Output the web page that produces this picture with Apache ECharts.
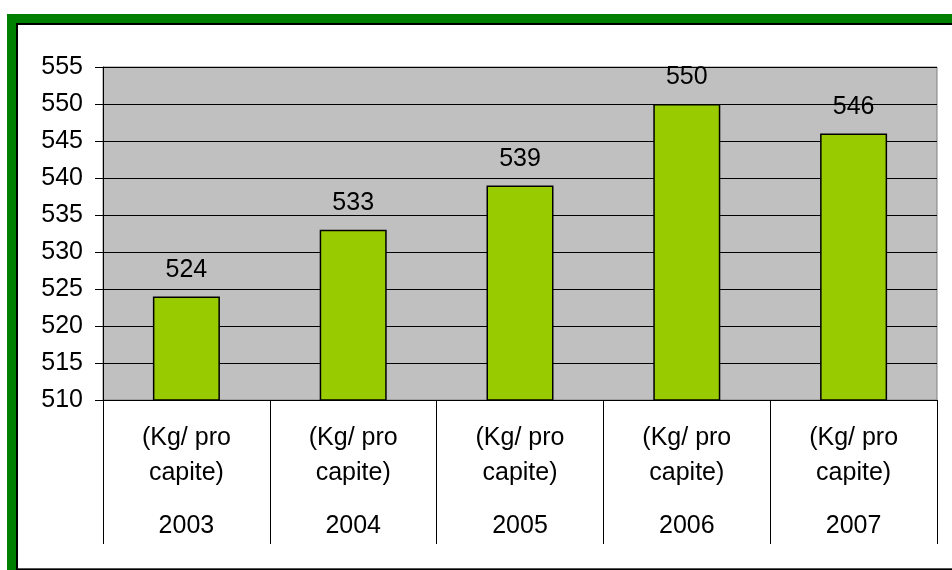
<!DOCTYPE html>
<html>
<head>
<meta charset="utf-8">
<script src="https://cdn.jsdelivr.net/npm/echarts@6/dist/echarts.min.js"></script>
<style>
  html, body { margin: 0; padding: 0; background: #fff; }
  #chart { width: 952px; height: 570px; }
</style>
</head>
<body>
<div id="chart"></div>
<script>
// dati
const years = ['2003', '2004', '2005', '2006', '2007']
const units = ['(Kg/ pro capite)', '(Kg/ pro capite)', '(Kg/ pro capite)', '(Kg/ pro capite)', '(Kg/ pro capite)']
const values = [524, 533, 539, 550, 546]
const yMin = 510
const yMax = 555
const yStep = 5

const font = 'Liberation Sans, Arial, sans-serif'

const myChart = echarts.init(document.getElementById('chart'))
myChart.setOption({
  backgroundColor: '#fff',
  animation: false,
  // cornice verde come nel foglio excel
  graphic: [
    { type: 'rect', z: -10, shape: { x: 7, y: 14, width: 1000, height: 600 }, style: { fill: '#008000' } },
    { type: 'rect', z: -9, shape: { x: 16, y: 23, width: 1000, height: 600 }, style: { fill: '#000' } },
    { type: 'rect', z: -8, shape: { x: 18, y: 25, width: 1000, height: 543 }, style: { fill: '#fff' } },
    { type: 'line', z: -7, shape: { x1: 18, y1: 568.5, x2: 952, y2: 568.5 }, style: { stroke: '#555', lineWidth: 1 } }
  ],
  grid: {
    left: 103,
    right: 15,
    top: 67,
    bottom: 170,
    show: true,
    backgroundColor: '#C0C0C0',
    borderColor: '#808080',
    borderWidth: 1
  },
  xAxis: [
    {
      type: 'category',
      data: units,
      position: 'bottom',
      axisLine: { lineStyle: { color: '#000', width: 1 } },
      axisTick: { show: true, length: 144, inside: false, lineStyle: { color: '#000' } },
      axisLabel: {
        color: '#000',
        fontFamily: font,
        fontSize: 25,
        lineHeight: 35,
        margin: 21,
        formatter: v => v.replace(' capite', '\ncapite')
      }
    },
    {
      type: 'category',
      data: years,
      position: 'bottom',
      axisLine: { show: false },
      axisTick: { show: false },
      axisLabel: {
        color: '#000',
        fontFamily: font,
        fontSize: 25,
        lineHeight: 30,
        margin: 111
      }
    }
  ],
  yAxis: {
    type: 'value',
    min: yMin,
    max: yMax,
    interval: yStep,
    axisLine: { show: true, lineStyle: { color: '#000' } },
    axisTick: { show: true, length: 8, lineStyle: { color: '#000' } },
    axisLabel: { color: '#000', fontFamily: font, fontSize: 25, margin: 20 },
    splitLine: { show: true, lineStyle: { color: '#000', width: 1 } }
  },
  series: [
    {
      type: 'bar',
      xAxisIndex: 0,
      data: values,
      barWidth: 67,
      itemStyle: { color: '#99CC00', borderColor: '#000', borderWidth: 1.5 },
      label: {
        show: true,
        position: 'top',
        distance: 14,
        color: '#000',
        fontFamily: font,
        fontSize: 25
      }
    }
  ]
})
</script>
</body>
</html>
